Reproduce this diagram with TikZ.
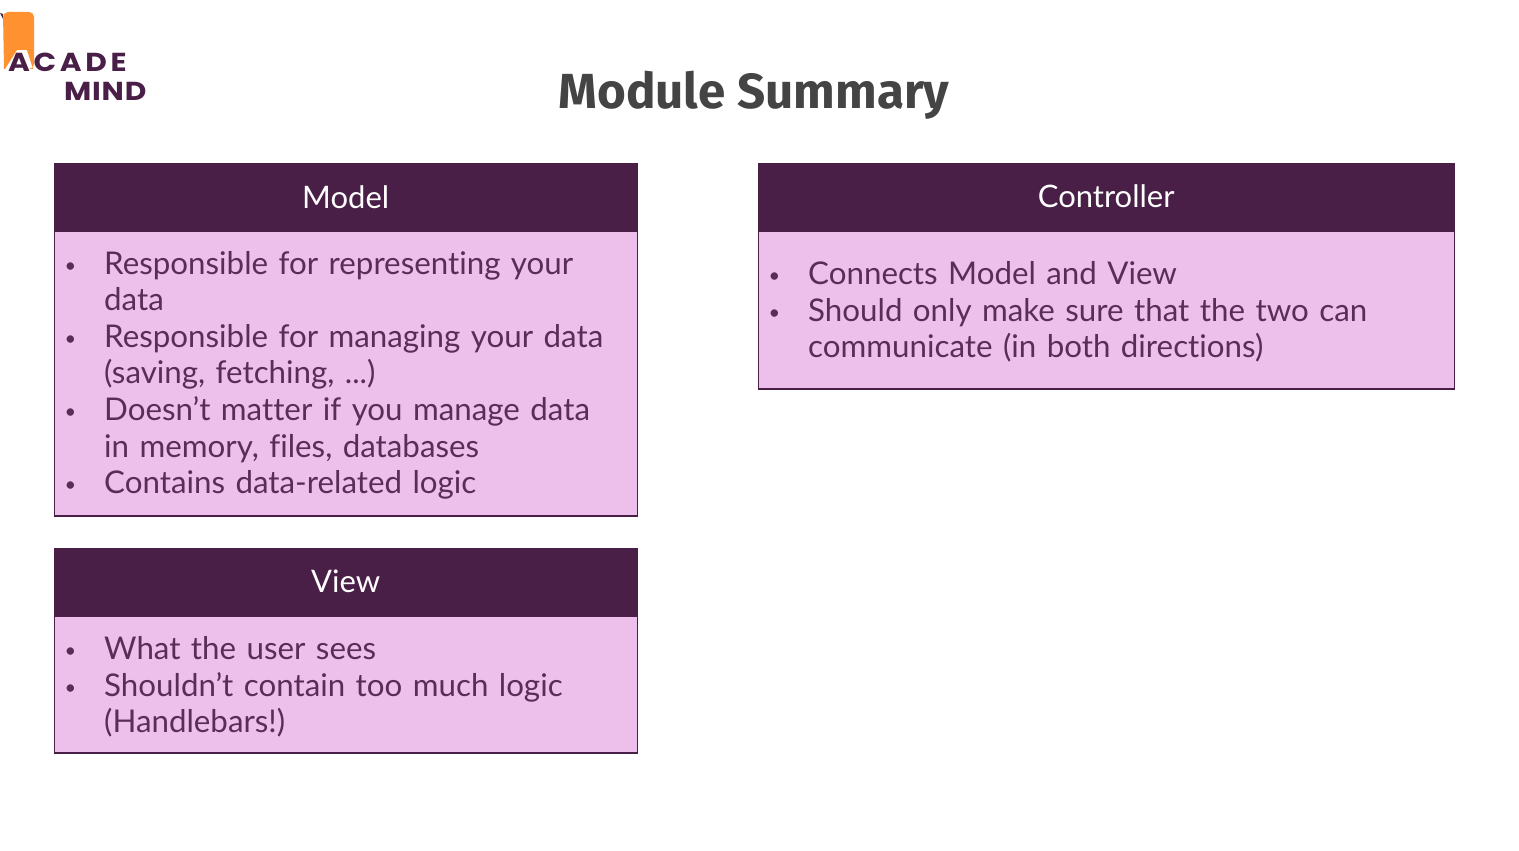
\documentclass[tikz,border=0pt]{standalone}
\usepackage{fontspec}
\setmainfont[Ligatures=CommonOff]{Lato}
\newfontfamily\titlefont{Fira Sans}
\newfontfamily\logofont[FakeStretch=1.14]{Poppins}
\usetikzlibrary{positioning}
\definecolor{plum}{HTML}{4A1F47}
\definecolor{lilac}{HTML}{EDC0EB}
\definecolor{plumtext}{HTML}{5A2D58}
\definecolor{logoorange}{HTML}{FF9130}
\definecolor{titlegray}{HTML}{444444}
\newcommand{\bitem}{\par\hangindent=50pt\hangafter=0\noindent\llap{\raisebox{2pt}{\fontsize{20}{20}\selectfont\textbullet}\hspace{28pt}}}

\tikzset{
  header/.style={draw=plum,fill=plum,text=white,minimum height=67pt,inner sep=0pt,font=\fontsize{31}{36}\selectfont},
  body/.style={draw=plum,line width=1.2pt,fill=lilac,text=plumtext,inner sep=0pt,font=\fontsize{31.3}{36.6}\selectfont,align=left},
  logotext/.style={text=plum,inner sep=0pt,font=\logofont\bfseries\fontsize{26}{26}\selectfont}
}

\begin{document}
\begin{tikzpicture}[x=1pt,y=-1pt,node distance=0pt]
\useasboundingbox (0,0) rectangle (1519,851);
%
% logo
  \fill[plum] (0,13) -- (3,14) -- (3,19) -- cycle;
  \fill[logoorange,rounded corners=5pt] (4,69) -- (3,12) -- (34,12) -- (34,69) [sharp corners] -- (33,69) -- (27,50) -- (17,50) -- (5,69) -- cycle;
  \node[logotext,anchor=base west] (acade) at (8,71) {\addfontfeature{LetterSpace=14}ACADE};
  \node[logotext,anchor=base west] (mind) at (64,100) {\addfontfeature{LetterSpace=3}MIND};
%
  \node[text=titlegray,font=\titlefont\bfseries\fontsize{49.3}{54}\selectfont] (title) at (754,95) {Module Summary};
%
% left column
  \node[header,minimum width=583pt,anchor=north west] (modelhead) at (54,163) {Model};
  \node[body,below=of modelhead,minimum width=583pt,minimum height=285pt,text width=583pt] (modelbody) {%
    \bitem Responsible for representing your\newline data
    \bitem Responsible for managing your data\newline (saving, fetching, ...)
    \bitem Doesn’t matter if you manage data\newline in memory, files, databases
    \bitem Contains data-related logic\par\vspace{10pt}};
%
  \node[header,minimum width=583pt,anchor=north west] (viewhead) at (54,548) {View};
  \node[body,below=of viewhead,minimum width=583pt,minimum height=137pt,text width=583pt] (viewbody) {%
    \bitem What the user sees
    \bitem Shouldn’t contain too much logic\newline (Handlebars!)\par\vspace{9pt}};
%
% right column
  \node[header,minimum width=696pt,anchor=north west] (ctrlhead) at (758,163) {Controller};
  \node[body,below=of ctrlhead,minimum width=696pt,minimum height=158pt,text width=696pt] (ctrlbody) {%
    \bitem Connects Model and View
    \bitem Should only make sure that the two can\newline communicate (in both directions)\par\vspace{10pt}};
\end{tikzpicture}
\end{document}
